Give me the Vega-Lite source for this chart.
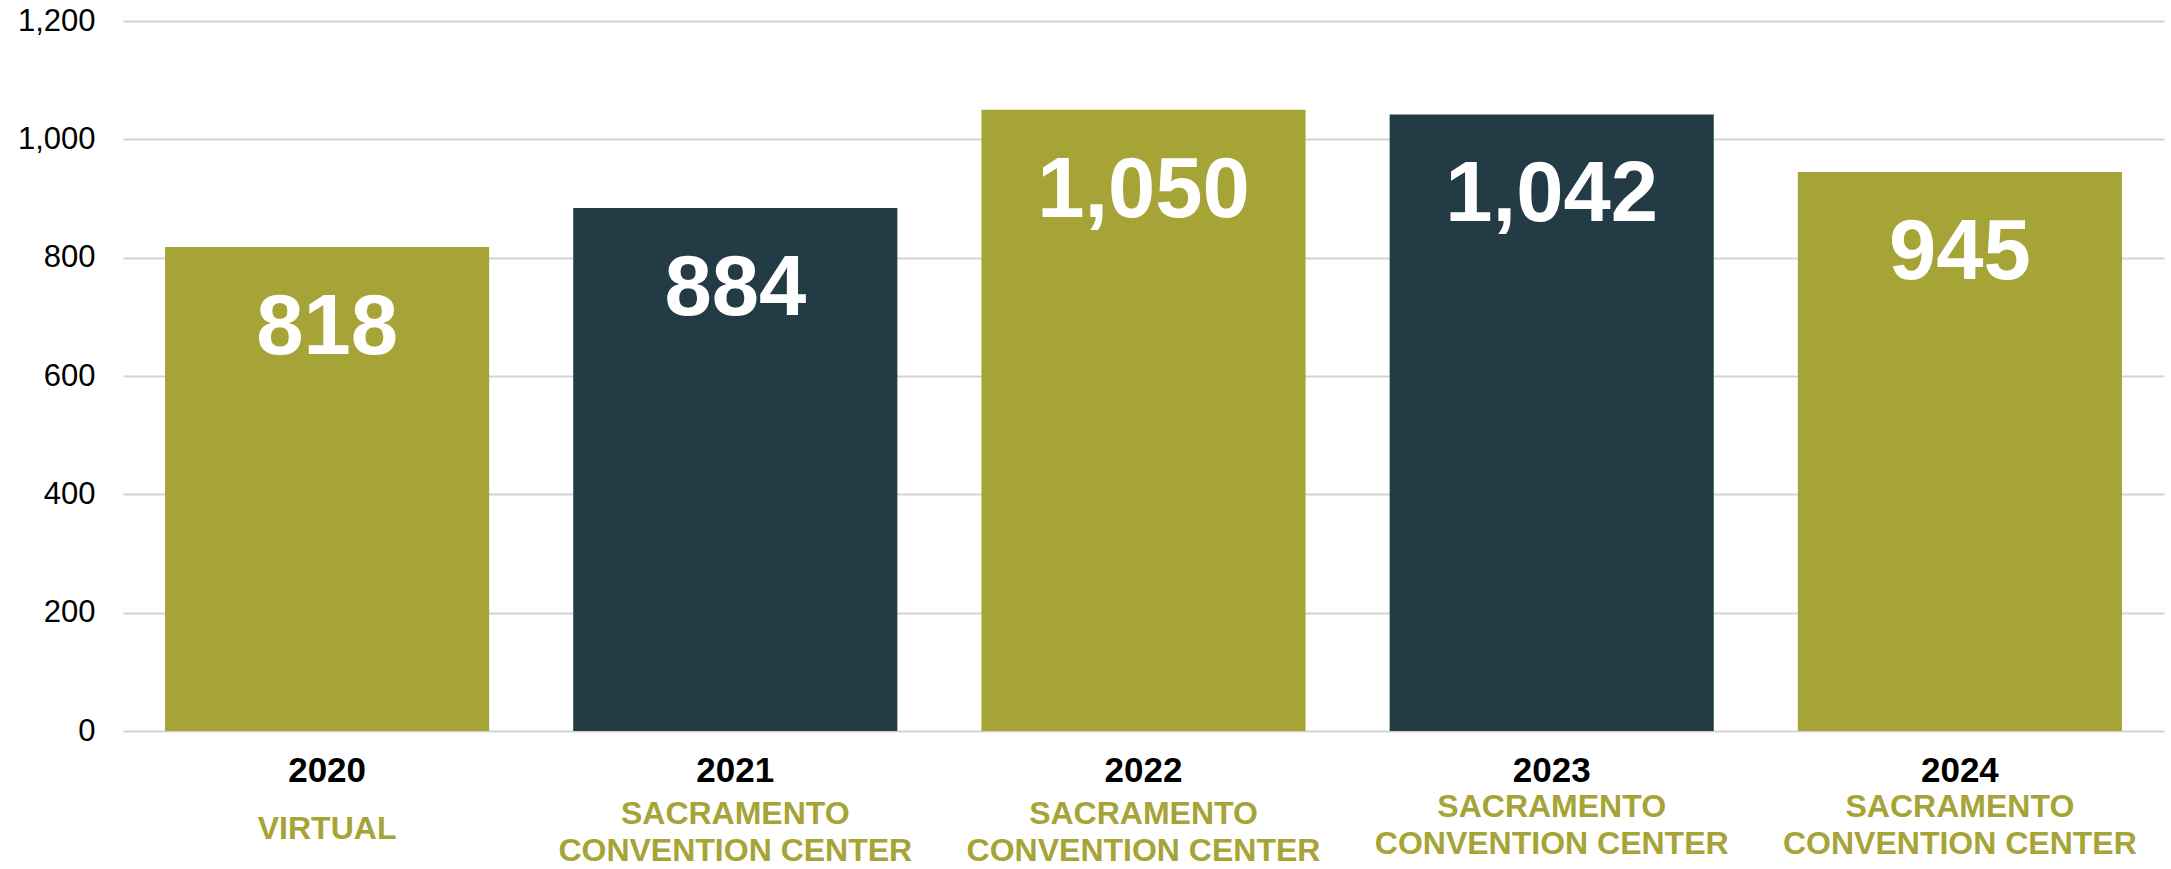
{
  "$schema": "https://vega.github.io/schema/vega-lite/v6.json",
  "width": 2041,
  "height": 710,
  "autosize": {"type": "none"},
  "padding": {"left": 123, "top": 21, "right": 7, "bottom": 138},
  "background": "white",
  "data": {
    "values": [
      {"year": "2020", "attendees": 818, "location": "VIRTUAL"},
      {"year": "2021", "attendees": 884, "location": "SACRAMENTO\nCONVENTION CENTER"},
      {"year": "2022", "attendees": 1050, "location": "SACRAMENTO\nCONVENTION CENTER"},
      {"year": "2023", "attendees": 1042, "location": "SACRAMENTO\nCONVENTION CENTER"},
      {"year": "2024", "attendees": 945, "location": "SACRAMENTO\nCONVENTION CENTER"}
    ]
  },
  "config": {
    "view": {"stroke": null},
    "font": "Liberation Sans"
  },
  "encoding": {
    "x": {
      "field": "year",
      "type": "nominal",
      "sort": null,
      "scale": {"paddingInner": 0.206, "paddingOuter": 0.103},
      "axis": {
        "title": null,
        "labelAngle": 0,
        "domain": false,
        "ticks": false,
        "labelFont": "Liberation Sans",
        "labelFontSize": 35,
        "labelFontWeight": "bold",
        "labelColor": "#000000",
        "labelBaseline": "middle",
        "labelPadding": 39
      }
    }
  },
  "layer": [
    {
      "mark": {"type": "bar"},
      "encoding": {
        "y": {
          "field": "attendees",
          "type": "quantitative",
          "scale": {"domain": [0, 1200]},
          "axis": {
            "title": null,
            "values": [0, 200, 400, 600, 800, 1000, 1200],
            "format": ",d",
            "domain": false,
            "ticks": false,
            "labelFont": "Liberation Sans",
            "labelFontSize": 31,
            "labelColor": "#000000",
            "labelPadding": 28,
            "gridColor": "#d4d4d4",
            "gridWidth": 2,
            "gridOpacity": 1
          }
        },
        "color": {
          "field": "year",
          "type": "nominal",
          "scale": {
            "domain": ["2020", "2021", "2022", "2023", "2024"],
            "range": ["#A6A436", "#233B44", "#A6A436", "#233B44", "#A6A436"]
          },
          "legend": null
        }
      }
    },
    {
      "mark": {
        "type": "text",
        "font": "Liberation Sans",
        "fontSize": 85,
        "fontWeight": "bold",
        "color": "#ffffff",
        "baseline": "alphabetic",
        "align": "center",
        "dy": 107
      },
      "encoding": {
        "y": {"field": "attendees", "type": "quantitative"},
        "text": {"field": "attendees", "type": "quantitative", "format": ",d"}
      }
    },
    {
      "transform": [{"filter": "datum.year === '2020'"}],
      "mark": {
        "type": "text",
        "font": "Liberation Sans",
        "fontSize": 32,
        "fontWeight": "bold",
        "color": "#A6A436",
        "baseline": "middle",
        "align": "center",
        "lineBreak": "\n",
        "lineHeight": 37,
        "dy": 98
      },
      "encoding": {
        "y": {"datum": 0, "type": "quantitative"},
        "text": {"field": "location", "type": "nominal"}
      }
    },
    {
      "transform": [{"filter": "datum.year === '2021' || datum.year === '2022'"}],
      "mark": {
        "type": "text",
        "font": "Liberation Sans",
        "fontSize": 32,
        "fontWeight": "bold",
        "color": "#A6A436",
        "baseline": "middle",
        "align": "center",
        "lineBreak": "\n",
        "lineHeight": 37,
        "dy": 83
      },
      "encoding": {
        "y": {"datum": 0, "type": "quantitative"},
        "text": {"field": "location", "type": "nominal"}
      }
    },
    {
      "transform": [{"filter": "datum.year === '2023' || datum.year === '2024'"}],
      "mark": {
        "type": "text",
        "font": "Liberation Sans",
        "fontSize": 32,
        "fontWeight": "bold",
        "color": "#A6A436",
        "baseline": "middle",
        "align": "center",
        "lineBreak": "\n",
        "lineHeight": 37,
        "dy": 76
      },
      "encoding": {
        "y": {"datum": 0, "type": "quantitative"},
        "text": {"field": "location", "type": "nominal"}
      }
    }
  ]
}
